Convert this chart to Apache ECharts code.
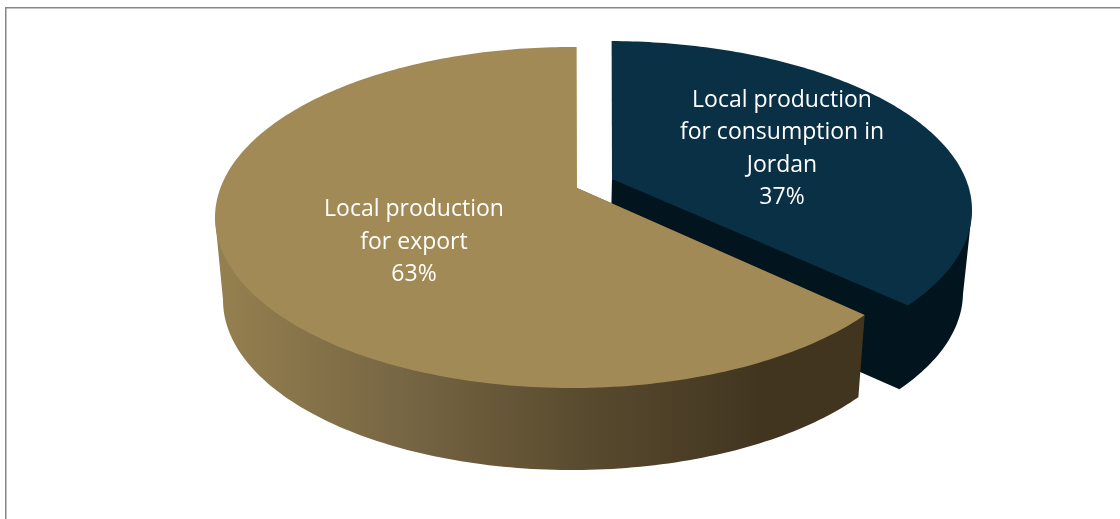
<!DOCTYPE html>
<html>
<head>
<meta charset="utf-8">
<style>html,body{margin:0;padding:0;background:#fff}#chart{width:1120px;height:519px}</style>
<script src="https://cdn.jsdelivr.net/npm/echarts@6/dist/echarts.min.js"></script>
</head>
<body>
<div id="chart"></div>
<script>
// Shares of local production, clockwise from twelve o'clock.
const categories = ['Local production\nfor consumption in\nJordan', 'Local production\nfor export'];
const shares = [37, 63];

// Projected discs for each exploded slice: rim ellipse plus the projected hub.
const sliceDiscs = [
  { top: { cx: 607, cy: 210, a: 365, b: 169, hx: 612, hy: 179 },
    base: { cx: 606, cy: 292.5, a: 357, b: 170, hx: 610, hy: 262 } },
  { top: { cx: 572, cy: 217.5, a: 357, b: 170.5, hx: 577, hy: 188 },
    base: { cx: 572, cy: 300, a: 349, b: 170, hx: 576, hy: 270 } }
];
const topColors = ['#0a3045', '#a28a56'];
const wallColors = [
  '#02141d',
  { type: 'linear', global: true, x: 215, y: 0, x2: 860, y2: 0, colorStops: [
    { offset: 0, color: '#95804f' }, { offset: 0.3, color: '#766543' },
    { offset: 0.58, color: '#584a2e' }, { offset: 0.85, color: '#423520' }, { offset: 1, color: '#423520' }
  ] }
];
const labelCenters = [[782, 149], [414, 242]];

// A true circle seen in perspective: the rim angle is carried through the
// disc automorphism that sends the circle's centre to the projected hub.
function rimPoint(disc, deg) {
  const phi = (deg - 90) * Math.PI / 180;
  const zr = Math.cos(phi), zi = Math.sin(phi);
  const hr = (disc.hx - disc.cx) / disc.a, hi = (disc.hy - disc.cy) / disc.b;
  const s = 1 / (1 + Math.sqrt(1 - hr * hr - hi * hi));
  const pr = hr * s, pi = hi * s;
  const nr = zr + pr, ni = zi + pi;
  const dr = 1 + pr * zr + pi * zi, di = pr * zi - pi * zr;
  const m = dr * dr + di * di;
  return [disc.cx + disc.a * (nr * dr + ni * di) / m, disc.cy + disc.b * (ni * dr - nr * di) / m];
}
function rimArc(disc, from, to) {
  const pts = [];
  const n = Math.max(8, Math.round(to - from));
  for (let i = 0; i <= n; i++) pts.push(rimPoint(disc, from + (to - from) * i / n));
  return pts;
}
// Angles of the rightmost and leftmost rim points bound the wall facing the viewer.
function frontRange(disc) {
  let right = 0, left = 0;
  for (let d = 0; d < 360; d++) {
    if (rimPoint(disc, d)[0] > rimPoint(disc, right)[0]) right = d;
    if (rimPoint(disc, d)[0] < rimPoint(disc, left)[0]) left = d;
  }
  return [right, left];
}

const total = shares.reduce((s, v) => s + v, 0);

function renderSlice(params, api) {
  const i = params.dataIndex;
  let start = 0;
  for (let k = 0; k < i; k++) start += shares[k] / total * 360;
  const end = start + api.value(0) / total * 360;
  const disc = sliceDiscs[i];
  const front = frontRange(disc.top);
  const wallFrom = Math.max(start, front[0]), wallTo = Math.min(end, front[1]);
  const topWall = rimArc(disc.top, wallFrom, wallTo);
  const baseWall = rimArc(disc.base, wallFrom, wallTo);
  const topHub = [disc.top.hx, disc.top.hy];
  const baseHub = [disc.base.hx, disc.base.hy];
  const poly = (points, fill) => ({ type: 'polygon', shape: { points }, style: { fill } });
  // The wall runs underneath the top face so no background shows along the rim.
  // A slice whose trailing cut faces the viewer also shows that cut.
  const cutVisible = end < front[1];
  const body = cutVisible
    ? baseWall.concat([baseHub, topHub, topWall[0]])
    : baseWall.concat([topWall[topWall.length - 1], topHub, topWall[0]]);
  return {
    type: 'group',
    children: [
      poly(body, wallColors[i]),
      poly([topHub].concat(rimArc(disc.top, start, end)), topColors[i]),
      {
        type: 'text', z2: 10,
        style: {
          text: categories[i] + '\n' + api.value(0) + '%',
          x: labelCenters[i][0], y: labelCenters[i][1],
          align: 'center', verticalAlign: 'middle',
          fill: '#ffffff', font: '23px "Open Sans", Lato, sans-serif', lineHeight: 32.6
        }
      }
    ]
  };
}

const chart = echarts.init(document.getElementById('chart'), null, { renderer: 'canvas' });
chart.setOption({
  animation: false,
  backgroundColor: '#ffffff',
  graphic: [{
    type: 'rect', silent: true,
    shape: { x: 5.75, y: 7.75, width: 1300, height: 700 },
    style: { fill: 'none', stroke: '#868686', lineWidth: 1.5 }
  }],
  series: [{
    type: 'custom',
    coordinateSystem: 'none',
    silent: true,
    renderItem: renderSlice,
    data: shares.map((v, i) => ({ name: categories[i], value: [v] }))
  }]
});
</script>
</body>
</html>
